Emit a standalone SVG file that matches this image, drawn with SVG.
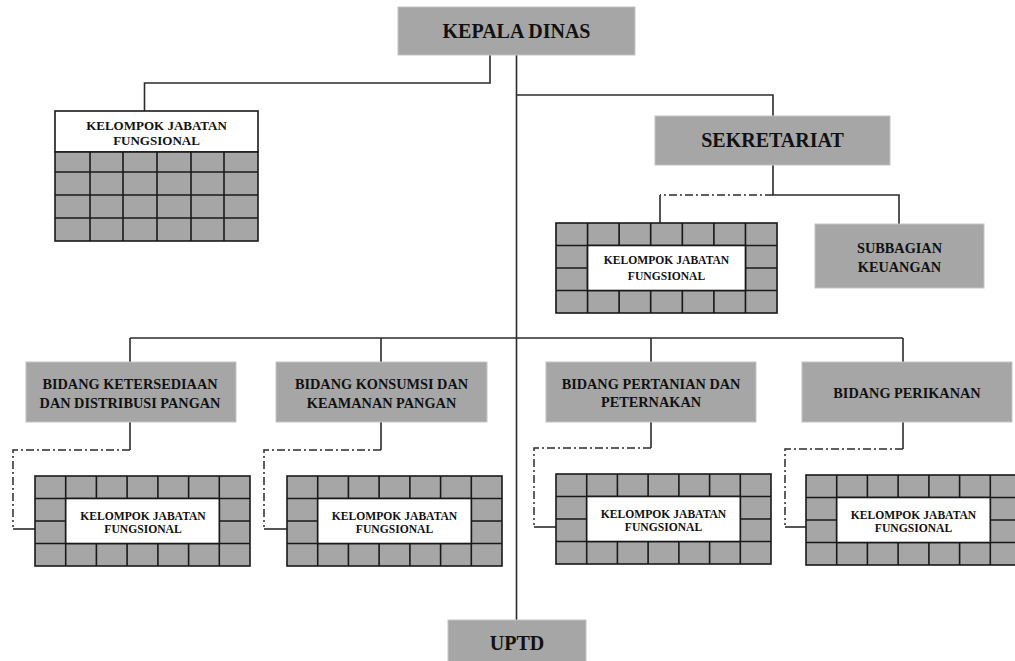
<svg xmlns="http://www.w3.org/2000/svg" xmlns:xlink="http://www.w3.org/1999/xlink" width="1015" height="661" viewBox="0 0 1015 661">
<style>
.box{fill:#a6a6a6;stroke:#c4c4c4;stroke-width:1}
.t{font-family:"Liberation Serif","Times New Roman",serif;font-weight:bold;fill:#111111;text-anchor:middle}
.big{font-size:20px}
.mid{font-size:14.3px}
.sm{font-size:11.6px}
.tl{font-size:13px}
.ln{fill:none;stroke:#2b2b2b;stroke-width:1.6}
.dd{fill:none;stroke:#2b2b2b;stroke-width:1.5;stroke-dasharray:8 3 2 3}
.cell{fill:#a6a6a6;stroke:#1a1a1a;stroke-width:1.6}
.grid{fill:none;stroke:#1a1a1a;stroke-width:1.6}
.white{fill:#ffffff;stroke:#1a1a1a;stroke-width:1.6}
</style>
<defs>
<g id="kjf">
<rect class="cell" x="0" y="0" width="215" height="90"/>
<path class="grid" d="M30.7,0V90M61.4,0V90M92.1,0V90M122.9,0V90M153.6,0V90M184.3,0V90M0,22.5H215M0,45H215M0,67.5H215"/>
<rect class="white" x="30.7" y="22.5" width="153.6" height="45"/>
</g>
</defs>

<g id="connectors">
<path class="ln" d="M516.5,55V620"/>
<path class="ln" d="M490,55V83H144.5V111"/>
<path class="ln" d="M516.5,95H773V116"/>
<path class="ln" d="M773,165V195H899V224"/>
<path class="dd" d="M773,195H660"/>
<path class="ln" d="M660,195V223"/>
<path class="ln" d="M130,338H903"/>
<path class="ln" d="M130,338V362M381,338V362M651,338V362M903,338V362"/>
<path class="ln" d="M130,422V450"/>
<path class="dd" d="M130,450H13V527"/>
<path class="ln" d="M13,529H35"/>
<path class="ln" d="M381,422V450"/>
<path class="dd" d="M381,450H264V527"/>
<path class="ln" d="M264,529H287"/>
<path class="ln" d="M651,422V448"/>
<path class="dd" d="M651,448H534V525"/>
<path class="ln" d="M534,527H556"/>
<path class="ln" d="M903,422V449"/>
<path class="dd" d="M903,449H785V525"/>
<path class="ln" d="M785,527H806"/>
</g>

<g id="kepala-dinas">
<rect class="box" x="398" y="7" width="237" height="48"/>
<text class="t big" x="516.5" y="38">KEPALA DINAS</text>
</g>

<g id="kjf-top">
<rect class="white" x="55" y="111" width="203" height="41"/>
<rect class="cell" x="55" y="152" width="203" height="89"/>
<path class="grid" d="M90,152V241M123,152V241M157,152V241M191,152V241M224,152V241M55,172H258M55,195H258M55,218H258"/>
<text class="t tl" x="156.5" y="130">KELOMPOK JABATAN</text>
<text class="t tl" x="156.5" y="145">FUNGSIONAL</text>
</g>

<g id="sekretariat">
<rect class="box" x="655" y="116" width="235" height="49"/>
<text class="t big" x="772.5" y="147">SEKRETARIAT</text>
</g>

<g id="kjf-sekretariat">
<use xlink:href="#kjf" transform="translate(556,223) scale(1.028,1)"/>
<text class="t sm" x="666.5" y="264">KELOMPOK JABATAN</text>
<text class="t sm" x="666.5" y="280">FUNGSIONAL</text>
</g>

<g id="subbagian-keuangan">
<rect class="box" x="815" y="224" width="169" height="64"/>
<text class="t mid" x="899.5" y="253">SUBBAGIAN</text>
<text class="t mid" x="899.5" y="272">KEUANGAN</text>
</g>

<g id="bidang-ketersediaan">
<rect class="box" x="26" y="362" width="210" height="60"/>
<text class="t mid" x="130" y="389">BIDANG KETERSEDIAAN</text>
<text class="t mid" x="130" y="408">DAN DISTRIBUSI PANGAN</text>
</g>

<g id="bidang-konsumsi">
<rect class="box" x="276" y="362" width="211" height="60"/>
<text class="t mid" x="381.5" y="389">BIDANG KONSUMSI DAN</text>
<text class="t mid" x="381.5" y="408">KEAMANAN PANGAN</text>
</g>

<g id="bidang-pertanian">
<rect class="box" x="546" y="362" width="210" height="60"/>
<text class="t mid" x="651" y="389">BIDANG PERTANIAN DAN</text>
<text class="t mid" x="651" y="407">PETERNAKAN</text>
</g>

<g id="bidang-perikanan">
<rect class="box" x="802" y="362" width="210" height="60"/>
<text class="t mid" x="907" y="398">BIDANG PERIKANAN</text>
</g>

<g id="kjf-1">
<use xlink:href="#kjf" transform="translate(35,476)"/>
<text class="t sm" x="143" y="520">KELOMPOK JABATAN</text>
<text class="t sm" x="143" y="533">FUNGSIONAL</text>
</g>

<g id="kjf-2">
<use xlink:href="#kjf" transform="translate(287,476)"/>
<text class="t sm" x="394.5" y="520">KELOMPOK JABATAN</text>
<text class="t sm" x="394.5" y="533">FUNGSIONAL</text>
</g>

<g id="kjf-3">
<use xlink:href="#kjf" transform="translate(556,474)"/>
<text class="t sm" x="663.5" y="518">KELOMPOK JABATAN</text>
<text class="t sm" x="663.5" y="531">FUNGSIONAL</text>
</g>

<g id="kjf-4">
<use xlink:href="#kjf" transform="translate(806,475)"/>
<text class="t sm" x="913.5" y="519">KELOMPOK JABATAN</text>
<text class="t sm" x="913.5" y="532">FUNGSIONAL</text>
</g>

<g id="uptd">
<rect class="box" x="448" y="620" width="138" height="45"/>
<text class="t big" x="517" y="650">UPTD</text>
</g>
</svg>
